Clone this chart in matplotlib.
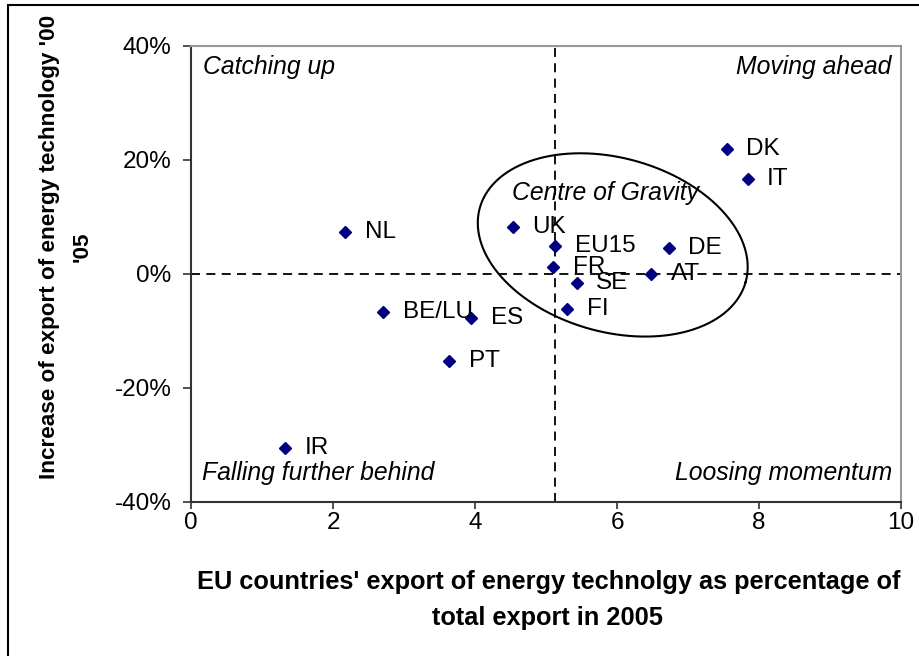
import numpy as np
import matplotlib
matplotlib.use("Agg")
import matplotlib.pyplot as plt
from matplotlib.ticker import PercentFormatter
from matplotlib.patches import Rectangle
from matplotlib.transforms import IdentityTransform

plt.rcParams['font.family'] = ['Liberation Sans', 'DejaVu Sans']
plt.rcParams['axes.unicode_minus'] = False

# ---- data ----
countries = ["DK", "IT", "NL", "UK", "EU15", "DE", "FR", "AT", "SE", "FI",
             "BE/LU", "ES", "PT", "IR"]
share_2005 = [7.55, 7.84, 2.17, 4.53, 5.13, 6.73, 5.10, 6.48, 5.43, 5.30,
              2.71, 3.95, 3.64, 1.33]
growth_00_05 = [0.220, 0.167, 0.073, 0.083, 0.049, 0.046, 0.013, 0.000,
                -0.015, -0.062, -0.066, -0.078, -0.152, -0.305]
x_ticks = [0, 2, 4, 6, 8, 10]
y_ticks = [-0.4, -0.2, 0.0, 0.2, 0.4]

W, H = 919, 656
fig = plt.figure(figsize=(W / 100, H / 100), dpi=100)
L, R, T, B = 191, 901, 46, 502
ax = fig.add_axes([L / W, 1 - B / H, (R - L) / W, (B - T) / H])

ax.set_xlim(0, 10)
ax.set_ylim(-0.4, 0.4)
ax.set_xticks(x_ticks)
ax.set_yticks(y_ticks)
ax.yaxis.set_major_formatter(PercentFormatter(1.0, decimals=0))
ax.tick_params(axis='both', direction='out', labelsize=17.5, colors='#333333',
               labelcolor='black', width=1.2)
ax.tick_params(axis='y', length=6, pad=8)
ax.tick_params(axis='x', length=5, pad=2.5)

for s in ['top', 'right']:
    ax.spines[s].set_color('#999999')
    ax.spines[s].set_linewidth(1.5)
for s in ['left', 'bottom']:
    ax.spines[s].set_color('#333333')
    ax.spines[s].set_linewidth(1.5)

# reference lines
eu_x = share_2005[countries.index("EU15")]
ax.axvline(eu_x, color='black', lw=1.3, ls=(0, (5, 3.5)), zorder=2)
ax.axhline(0, color='black', lw=1.3, ls=(0, (5, 3.5)), zorder=2)

# ellipse "Centre of Gravity" (defined in pixel space, mapped to data)
px_x = (R - L) / 10.0
px_y = (B - T) / 0.8
cx, cy, a, b, ang = 5.94, 0.051, 138, 87, np.deg2rad(-15.6)
t = np.linspace(0, 2 * np.pi, 400)
dx = a * np.cos(t) * np.cos(ang) - b * np.sin(t) * np.sin(ang)
dy = a * np.cos(t) * np.sin(ang) + b * np.sin(t) * np.cos(ang)
ax.plot(cx + dx / px_x, cy + dy / px_y, color='black', lw=1.5, zorder=3)

# points
ax.plot(share_2005, growth_00_05, ls='none', marker='D', ms=6.5,
        color='#000080', zorder=4)
for c, x, y in zip(countries, share_2005, growth_00_05):
    ax.annotate(c, (x, y), xytext=(14, 0), textcoords='offset points',
                fontsize=17.5, va='center', ha='left', zorder=5)

# quadrant texts
ax.text(0.017, 0.955, "Catching up", transform=ax.transAxes, fontsize=17.8,
        style='italic', ha='left', va='center')
ax.text(0.986, 0.955, "Moving ahead", transform=ax.transAxes, fontsize=17.8,
        style='italic', ha='right', va='center')
ax.text(0.015, 0.063, "Falling further behind", transform=ax.transAxes,
        fontsize=17.8, style='italic', ha='left', va='center')
ax.text(0.988, 0.063, "Loosing momentum", transform=ax.transAxes,
        fontsize=17.8, style='italic', ha='right', va='center')
ax.text((605 - L) / (R - L), (B - 193) / (B - T), "Centre of Gravity",
        transform=ax.transAxes, fontsize=17.8, style='italic',
        ha='center', va='center')

# axis titles
fig.text(549 / W, 1 - 582 / H,
         "EU countries' export of energy technolgy as percentage of",
         fontsize=18.3, fontweight='bold', ha='center', va='center')
fig.text(548 / W, 1 - 618 / H, "total export in 2005",
         fontsize=18.3, fontweight='bold', ha='center', va='center')
fig.text(50 / W, 1 - 247 / H, "Increase of export of energy technology '00",
         fontsize=16.2, fontweight='bold', ha='center', va='center',
         rotation=90)
fig.text(82 / W, 1 - 247 / H, "'05",
         fontsize=16.2, fontweight='bold', ha='center', va='center',
         rotation=90)

# outer frame (left and top edges visible, others outside the image)
frame = Rectangle((8, -10), W + 20, H + 5, fill=False,
                  edgecolor='black', lw=1.5)
frame.set_transform(IdentityTransform())
fig.patches.append(frame)

fig.savefig("out.png", dpi=100)
